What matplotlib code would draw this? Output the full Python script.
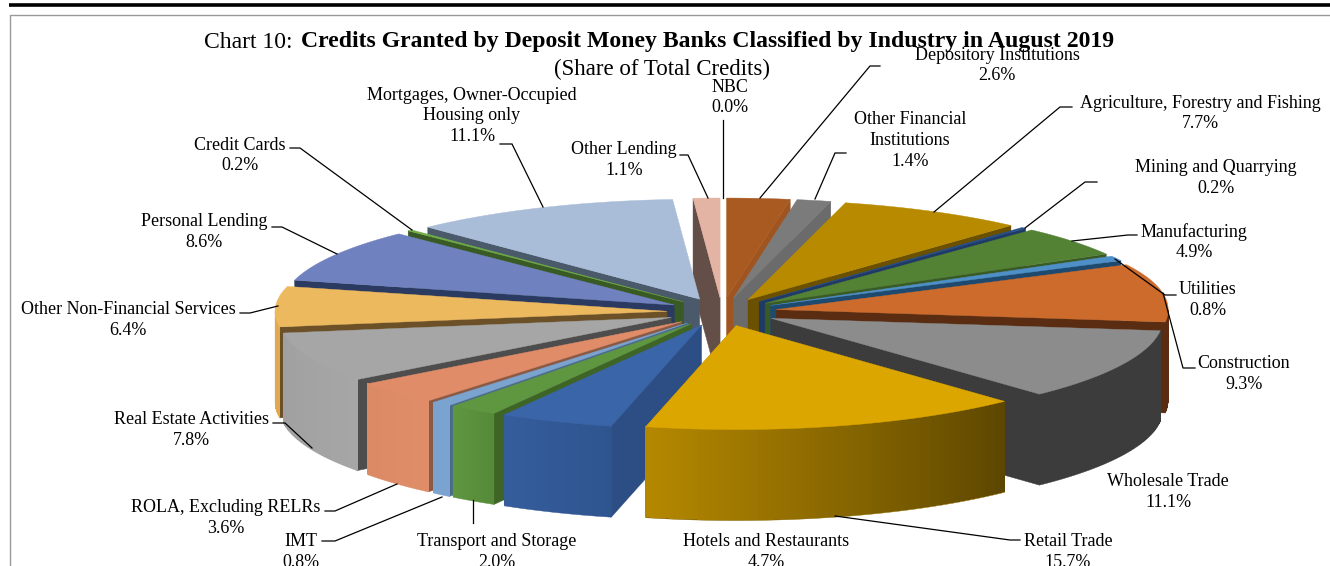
import numpy as np
import matplotlib
matplotlib.use("Agg")
import matplotlib.pyplot as plt
import matplotlib.colors as mcolors

plt.rcParams["font.family"] = ["Liberation Serif", "DejaVu Serif"]

# clockwise from 12 o'clock
labels = ["Depository Institutions", "Other Financial\nInstitutions", "Agriculture, Forestry and Fishing",
          "Mining and Quarrying", "Manufacturing", "Utilities", "Construction", "Wholesale Trade",
          "Retail Trade", "Hotels and Restaurants", "Transport and Storage", "IMT",
          "ROLA, Excluding RELRs", "Real Estate Activities", "Other Non-Financial Services",
          "Personal Lending", "Credit Cards", "Mortgages, Owner-Occupied\nHousing only",
          "Other Lending", "NBC"]
shares = [2.6, 1.4, 7.7, 0.2, 4.9, 0.8, 9.3, 11.1, 15.7, 4.7, 2.0, 0.8, 3.6, 7.8, 6.4, 8.6, 0.2, 11.1, 1.1, 0.0]

top_colors = ["#a85a20", "#7b7b7b", "#b88a00", "#264f8a", "#548235", "#4e8fc7", "#cc6b2b", "#8c8c8c",
              "#dca600", "#3a65a8", "#5f9640", "#7ba3cf", "#e08c68", "#a6a6a6", "#edb95e",
              "#6f82bf", "#70ad47", "#a9bdd8", "#e3b3a3", "#9e480e"]
edge_colors = ["#a05520", "#6b6b6b", "#6b5000", "#1f3a66", "#3a5a25", "#1f4a70", "#5a2d12", "#3c3c3c",
               "#b58800", "#2d4e85", "#3e6426", "#4a6b8f", "#8a5a45", "#4d4d4d", "#6b5028",
               "#2a3a60", "#3a5a25", "#4a5a6a", "#644f48", "#644f48"]
# outer wall colour at the start and end of each slice
wall_start = ["#a05520", "#6b6b6b", "#6b5000", "#1f3a66", "#3a5a25", "#1f4a70", "#5a2d12", "#3c3c3c",
              "#5c4600", "#2f558f", "#558a38", "#7ba3cf", "#e08c68", "#a6a6a6", "#e0a850",
              "#2a3a60", "#3a5a25", "#4a5a6a", "#644f48", "#644f48"]
wall_end = ["#a05520", "#6b6b6b", "#6b5000", "#1f3a66", "#3a5a25", "#1f4a70", "#5a2d12", "#3c3c3c",
            "#b58800", "#355d9c", "#5f9640", "#7ba3cf", "#db8a66", "#a0a0a0", "#e0a850",
            "#2a3a60", "#3a5a25", "#4a5a6a", "#644f48", "#644f48"]

# text layout: centre x, y of first line
label_pos = [(997, 54), (910, 119), (1200, 102), (1216, 167), (1194, 231), (1208, 289), (1244, 363), (1168, 481),
             (1068, 541), (766, 541), (497, 541), (301, 541), (226, 507), (191, 419), (128, 309),
             (204, 221), (240, 144), (472, 94), (624, 149), (730, 86)]
leaders = [[(760, 198), (870, 66), (880, 66)], [(815, 199), (835, 153), (846, 153)],
           [(934, 212), (1060, 107), (1072, 107)], [(1025, 228), (1085, 182), (1097, 182)],
           [(1072, 241), (1128, 235), (1137, 235)], [(1115, 259), (1165, 295), (1176, 295)],
           [(1163, 293), (1183, 368), (1195, 368)], None,
           [(835, 516), (1010, 540), (1020, 540)], None, [(473, 500), (473, 523)],
           [(442, 497), (335, 541), (322, 541)], [(397, 484), (335, 511), (325, 511)],
           [(312, 448), (285, 423), (273, 423)], [(278, 306), (250, 313), (240, 313)],
           [(337, 254), (282, 227), (272, 227)], [(412, 230), (300, 148), (290, 148)],
           [(543, 207), (512, 144), (500, 144)], [(708, 198), (688, 155), (680, 155)],
           [(723, 198), (723, 120)]]

cx, cy = 722, 312
rx, ry_back, ry_front = 392, 100, 104
explode_x, explode_y = 55, 14
depth = 91

fig = plt.figure(figsize=(13.3, 5.66), dpi=100)
ax = fig.add_axes([0, 0, 1, 1])
ax.set_xlim(0, 1330)
ax.set_ylim(566, 0)
ax.axis("off")

# page frame
ax.plot([9, 1330], [4.5, 4.5], color="black", lw=2.6, solid_capstyle="butt")
ax.plot([9.5, 9.5, 1330], [566, 14.5, 14.5], color="#9a9a9a", lw=1)


def point(tip, ang):
    c = np.cos(ang)
    return tip[0] + rx * np.sin(ang), tip[1] - np.where(c > 0, ry_back, ry_front) * c


edges = np.radians(np.cumsum([0] + shares) / sum(shares) * 360)
mids = (edges[:-1] + edges[1:]) / 2
order = np.argsort(-np.cos(mids))

for i in order:
    a0, a1 = edges[i], edges[i + 1]
    if a1 - a0 < 1e-6:
        continue
    m = mids[i]
    tip = (cx + explode_x * np.sin(m), cy - explode_y * np.cos(m))
    arc = np.linspace(a0, a1, 60)

    # radial side facing the viewer
    a = a1 if np.sin(m) > 0 else a0
    ox, oy = point(tip, a)
    ax.fill([tip[0], ox, ox, tip[0]], [tip[1], oy, oy + depth, tip[1] + depth],
            color=edge_colors[i], lw=0.3, zorder=3)

    # outer wall: smooth outline first, then shaded strips just inside it
    c0 = np.array(mcolors.to_rgb(wall_start[i]))
    c1 = np.array(mcolors.to_rgb(wall_end[i]))
    front = arc[np.cos(arc) < 0]
    if len(front) > 1:
        fx, fy = point(tip, front)
        ax.fill(np.r_[fx, fx[::-1]], np.r_[fy, fy[::-1] + depth], color=(c0 + c1) / 2, lw=0.3, zorder=3)
    for j in range(len(arc) - 1):
        s, e = arc[j], arc[j + 1]
        if np.cos((s + e) / 2) > 0:
            continue
        x0, y0 = point(tip, s)
        x1, y1 = point(tip, e)
        t = (j + 0.5) / (len(arc) - 1)
        col = c0 * (1 - t) + c1 * t
        ax.fill([x0, x1, x1, x0], [y0, y1, y1 + depth - 1, y0 + depth - 1], color=col, lw=0,
                antialiased=False, zorder=3)

    xs, ys = point(tip, arc)
    ax.fill(np.r_[tip[0], xs], np.r_[tip[1], ys], color=top_colors[i], lw=0.3, zorder=3)

for path in leaders:
    if path:
        ax.plot(*zip(*path), color="black", lw=0.9, zorder=5, solid_joinstyle="miter")

fs = 13
line_h = 20.8
for name, val, (x, y) in zip(labels, shares, label_pos):
    lines = name.split("\n") + [f"{val:.1f}%"]
    for k, line in enumerate(lines):
        ax.text(x, y + 1 + k * line_h, line, ha="center", va="center", fontsize=fs, color="black", zorder=6)

ax.text(204, 42, "Chart 10:", ha="left", va="center", fontsize=17, color="black", zorder=6)
ax.text(301, 42, "Credits Granted by Deposit Money Banks Classified by Industry in August 2019",
        ha="left", va="center", fontsize=17.1, fontweight="bold", color="black", zorder=6)
ax.text(662, 69, "(Share of Total Credits)", ha="center", va="center", fontsize=16.5, color="black", zorder=6)

fig.savefig("out.png", dpi=100)
